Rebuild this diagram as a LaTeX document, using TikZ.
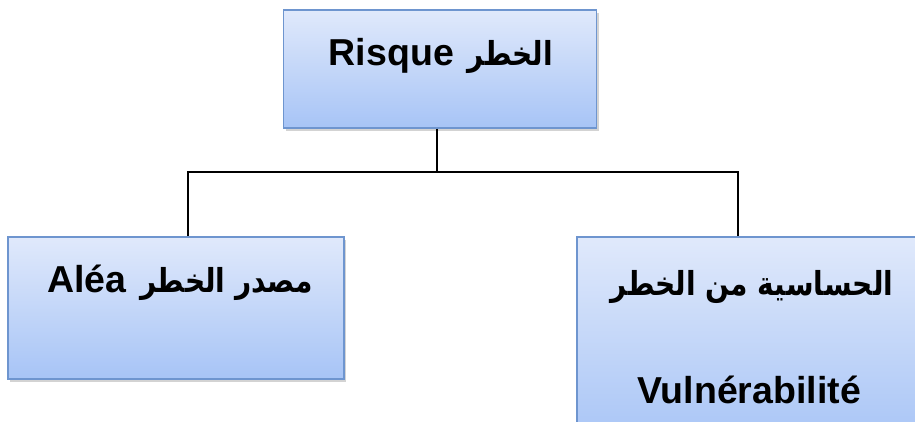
\documentclass[tikz,border=0pt]{standalone}
\usepackage{fontspec}
\setmainfont{Liberation Sans}
\newfontfamily\arabicfont[Script=Arabic,FakeStretch=0.85]{DejaVu Sans}
\TeXXeTstate=1
\usetikzlibrary{shadows}
\definecolor{boxtop}{HTML}{E0E9FB}
\definecolor{boxbot}{HTML}{A7C4F6}
\definecolor{boxline}{HTML}{6E95CF}
\newcommand{\arb}[1]{{\arabicfont\fontsize{33}{38}\selectfont\beginR #1\endR}}
\tikzset{
  box/.style={rectangle, draw=boxline, line width=1.3pt, top color=boxtop, bottom color=boxbot,
    drop shadow={shadow xshift=2pt, shadow yshift=-3pt, opacity=0.35}, inner sep=0pt},
  lbl/.style={font=\fontsize{37.5}{40}\selectfont\bfseries, inner sep=0pt, anchor=base},
  conn/.style={draw=black, line width=1.8pt}
}
\begin{document}
\begin{tikzpicture}[x=1pt,y=-1pt]
\useasboundingbox (0,0) rectangle (915,421);
\clip (0,0) rectangle (915,421);
\node[box, minimum width=313pt, minimum height=118pt] (top) at (440,69) {};
\node[box, minimum width=336pt, minimum height=142pt] (left) at (176,308) {};
\node[box, minimum width=340pt, minimum height=210pt] (right) at (747,342) {};
\coordinate (j) at (437,172);
\draw[conn] ([xshift=-3pt]top.south) -- (j);
\draw[conn] (j) -| ([xshift=12pt]left.north);
\draw[conn] (j) -| ([xshift=-9pt]right.north);
\node[lbl] (t1) at (441,65) {Risque\hspace{14pt}\arb{الخطر}};
\node[lbl] (t2) at (180,292) {Aléa\hspace{14pt}\arb{مصدر الخطر}};
\node[lbl] (t3) at (752,295) {\arb{الحساسية من الخطر}};
\node[lbl] (t4) at (749,403) {Vulnérabilité};
\end{tikzpicture}
\end{document}
